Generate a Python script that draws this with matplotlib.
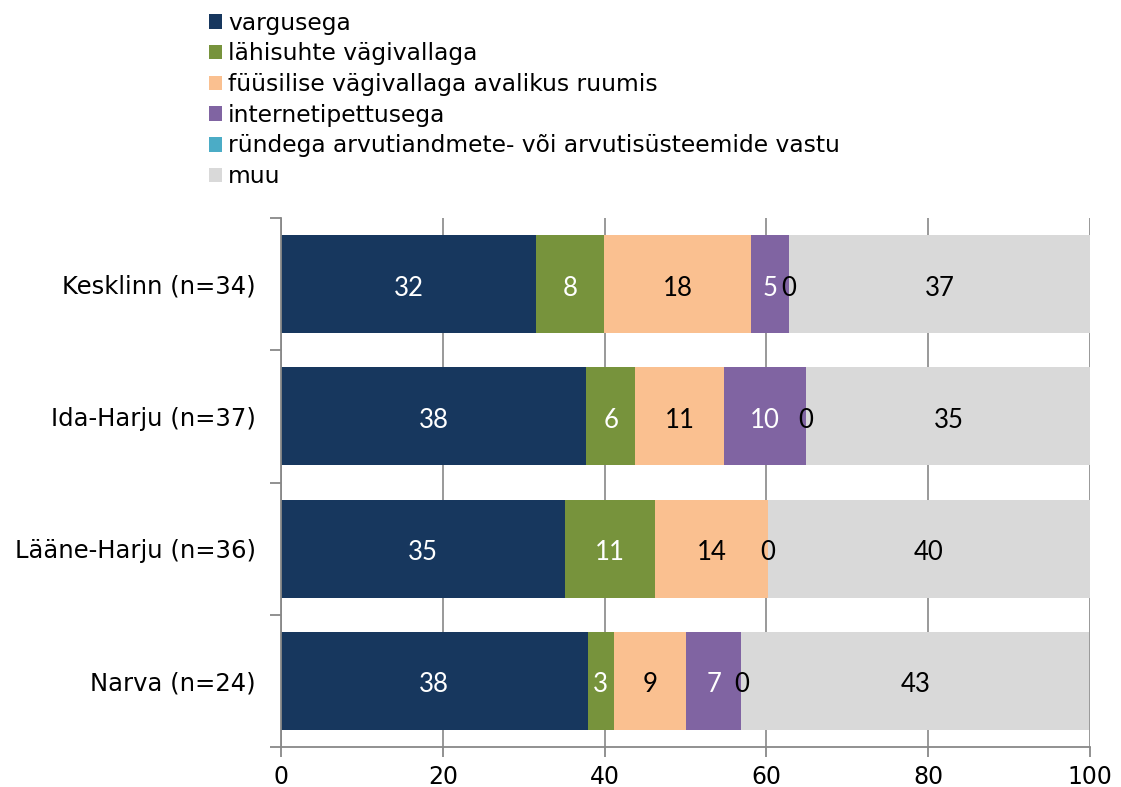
import numpy as np
import matplotlib.pyplot as plt
from matplotlib.patches import Patch

# data (percent)
categories = ['Kesklinn (n=34)', 'Ida-Harju (n=37)', 'Lääne-Harju (n=36)', 'Narva (n=24)']
vargusega = [31.5, 37.7, 35.1, 37.9]
lahisuhte = [8.4, 6.1, 11.1, 3.2]
fuusilise = [18.2, 10.9, 14.0, 9.0]
internet = [4.7, 10.2, np.nan, 6.8]
rundega = [0, 0, 0, 0]
muu = [37.2, 35.2, 39.8, 43.0]

series = [
    ('vargusega', vargusega, '#17375E', 'white'),
    ('lähisuhte vägivallaga', lahisuhte, '#77933C', 'white'),
    ('füüsilise vägivallaga avalikus ruumis', fuusilise, '#FAC090', 'black'),
    ('internetipettusega', internet, '#8064A2', 'white'),
    ('ründega arvutiandmete- või arvutisüsteemide vastu', rundega, '#4BACC6', 'black'),
    ('muu', muu, '#D9D9D9', 'black'),
]

plt.rcParams['font.family'] = ['DejaVu Sans']

fig = plt.figure(figsize=(11.21, 7.87), dpi=100)
ax = fig.add_axes([0.2507, 0.0508, 0.7217, 0.6722])

y = np.arange(len(categories))
left = np.zeros(len(categories))
for name, vals, color, tcol in series:
    v = np.nan_to_num(np.array(vals, dtype=float))
    ax.barh(y, v, left=left, height=0.74, color=color, zorder=2)
    for i, raw in enumerate(vals):
        if np.isnan(raw):
            continue
        ax.text(left[i] + v[i] / 2, y[i] + 0.03, f'{raw:.0f}', ha='center', va='center',
                color=tcol, fontsize=18.5, family=['Lato', 'DejaVu Sans'], zorder=3)
    left = left + v

ax.set_xlim(0, 100)
ax.set_ylim(len(categories) - 0.5, -0.5)
ax.set_xticks([0, 20, 40, 60, 80, 100])
ax.tick_params(axis='x', labelsize=17, length=7, width=1.3, color='#888888', pad=6)
ax.set_yticks(y)
ax.set_yticklabels(categories, fontsize=17.5)
ax.tick_params(axis='y', which='major', length=0, pad=18)
ax.set_yticks(np.arange(-0.5, len(categories)), minor=True)
ax.tick_params(axis='y', which='minor', length=8, width=1.3, color='#888888')
ax.grid(axis='x', color='#888888', linewidth=1.2, zorder=0)
ax.set_axisbelow(True)
for s in ['top', 'right']:
    ax.spines[s].set_visible(False)
for s in ['left', 'bottom']:
    ax.spines[s].set_color('#888888')
    ax.spines[s].set_linewidth(1.3)

handles = [Patch(facecolor=c, label=n) for n, _, c, _ in series]
fig.legend(handles=handles, loc='upper left', bbox_to_anchor=(0.178, 0.997),
           frameon=False, fontsize=16.8, handlelength=0.58, handleheight=0.58,
           handletextpad=0.25, labelspacing=0.33, borderaxespad=0)

fig.savefig('out.png', dpi=100)
